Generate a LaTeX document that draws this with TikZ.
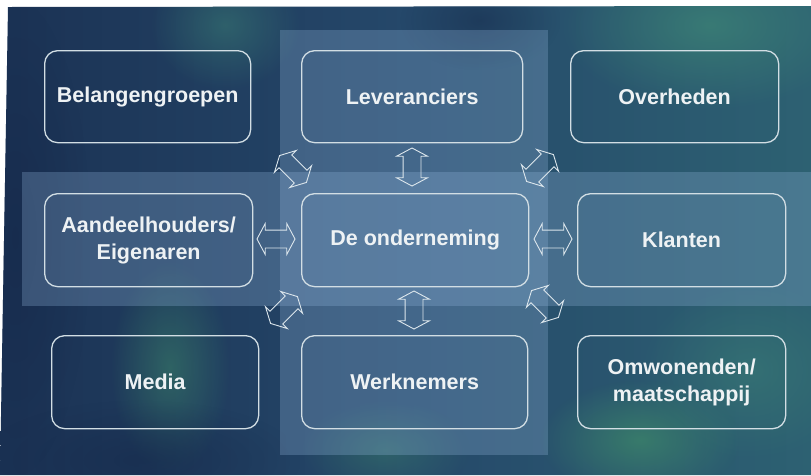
\documentclass[tikz,border=0pt]{standalone}
\usepackage{fontspec}
\setmainfont{Liberation Sans}
\usetikzlibrary{shapes.arrows,fadings}
\definecolor{bgleft}{HTML}{1B3254}
\definecolor{bgmid}{HTML}{25486A}
\definecolor{bgright}{HTML}{2D6172}
\definecolor{tealpatch}{HTML}{3C8276}
\definecolor{greenpatch}{HTML}{3E8A6A}
\definecolor{navypatch}{HTML}{162A4C}
\definecolor{bandblue}{HTML}{94B8DE}
\definecolor{boxline}{HTML}{D2DEE4}
\definecolor{arrowline}{HTML}{DCE6EC}
\definecolor{labeltext}{HTML}{EEF2F4}
\tikzfading[name=softblob, inner color=transparent!0, outer color=transparent!100]
\begin{document}
\begin{tikzpicture}[x=1pt,y=-1pt,
  stakeholder/.style={draw=boxline, line width=1.3pt, rounded corners=13pt,
    text=labeltext, font=\bfseries\fontsize{21.5}{27}\selectfont,
    align=center, inner sep=0pt, anchor=north west},
  band/.style={fill=bandblue, fill opacity=0.28},
  blob/.style={path fading=softblob, fit fading=true},
  link/.style={double arrow, draw=arrowline, line width=0.9pt,
    minimum height=38pt, minimum width=0pt, inner xsep=0pt, inner ysep=8.5pt,
    double arrow head extend=6.5pt, double arrow tip angle=124}
]
\useasboundingbox (0,0) rectangle (811,475);

% backdrop with a mottled blue-teal texture
\shade[left color=bgleft, right color=bgright, middle color=bgmid]
  (8,7) -- (811,6) -- (811,475) -- (0,475) -- cycle;
\begin{scope}
  \clip (8,7) -- (811,6) -- (811,475) -- (0,475) -- cycle;
  \fill[navypatch, opacity=0.7, blob] (-60,0) rectangle (90,475);
  \fill[tealpatch, opacity=0.8, blob] (560,-60) rectangle (860,110);
  \fill[tealpatch, opacity=0.5, blob] (150,-40) rectangle (300,90);
  \fill[greenpatch, opacity=0.7, blob] (540,380) rectangle (740,500);
  \fill[greenpatch, opacity=0.5, blob] (110,260) rectangle (230,475);
  \fill[navypatch, opacity=0.6, blob] (-20,400) rectangle (300,520);
  \fill[tealpatch, opacity=0.5, blob] (640,280) rectangle (860,460);
  \fill[navypatch, opacity=0.5, blob] (400,-30) rectangle (560,70);
  \fill[greenpatch, opacity=0.4, blob] (300,400) rectangle (470,500);
\end{scope}

% translucent cross of bands
\fill[band] (280,30) rectangle (548,455);
\fill[band] (22,172) rectangle (811,306);

% stakeholders
\node[stakeholder, minimum width=206pt, minimum height=92pt] (belang) at (44,50) {Belangengroepen};
\node[stakeholder, minimum width=221pt, minimum height=92pt] (lev) at (301,50) {Leveranciers};
\node[stakeholder, minimum width=208pt, minimum height=92pt] (over) at (570,50) {Overheden};
\node[stakeholder, minimum width=208pt, minimum height=93pt] (aandeel) at (44,193) {Aandeelhouders/\\Eigenaren};
\node[stakeholder, minimum width=227pt, minimum height=93pt] (kern) at (301,193) {De onderneming};
\node[stakeholder, minimum width=208pt, minimum height=93pt] (klant) at (577,193) {Klanten};
\node[stakeholder, minimum width=207pt, minimum height=93pt] (media) at (51,335) {Media};
\node[stakeholder, minimum width=226pt, minimum height=93pt] (werk) at (301,335) {Werknemers};
\node[stakeholder, minimum width=208pt, minimum height=93pt] (omw) at (577,335) {Omwonenden/\\maatschappij};

% two-way relations with the company
\node[link, rotate=90] (a-lev) at (412,167) {};
\node[link, rotate=90] (a-werk) at (414,310) {};
\node[link] (a-aandeel) at (276,239) {};
\node[link] (a-klant) at (553,239) {};
\node[link, rotate=-45] (a-belang) at (293,169) {};
\node[link, rotate=45] (a-over) at (540,168) {};
\node[link, rotate=45] (a-media) at (284,310) {};
\node[link, rotate=-45] (a-omw) at (545,304) {};
\end{tikzpicture}
\end{document}
